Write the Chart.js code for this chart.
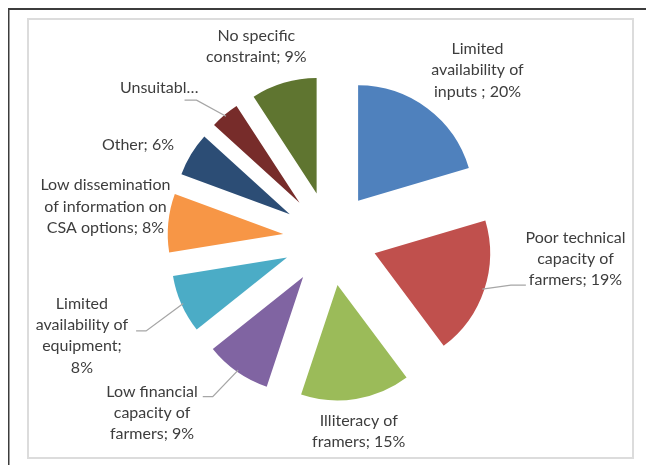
<!DOCTYPE html>
<html>
<head>
<meta charset="utf-8">
<script src="https://cdn.jsdelivr.net/npm/chart.js@4.4.1/dist/chart.umd.min.js"></script>
<style>
  html, body { margin: 0; padding: 0; background: #fff; overflow: hidden; }
  canvas { display: block; }
</style>
</head>
<body>
<canvas id="chart" width="646" height="465"></canvas>
<script>
// Constraints reported by respondents (share of responses, %)
const categories = [
  "Limited availability of inputs",
  "Poor technical capacity of farmers",
  "Illiteracy of framers",
  "Low financial capacity of farmers",
  "Limited availability of equipment",
  "Low dissemination of information on CSA options",
  "Other",
  "Unsuitabl\u2026",
  "No specific constraint"
];
const shares = [20, 19, 15, 9, 8, 8, 6, 4, 9];
const sliceColors = [
  "#4F81BD", "#C0504D", "#9BBB59", "#8064A2", "#4BACC6",
  "#F79646", "#2C4D75", "#772C2A", "#5F7530"
];
// Wrapped data-label text; {v} is replaced by the slice value
const labelTemplates = [
  ["Limited", "availability of", "inputs ; {v}%"],
  ["Poor technical", "capacity of", "farmers; {v}%"],
  ["Illiteracy of", "framers; {v}%"],
  ["Low financial", "capacity of", "farmers; {v}%"],
  ["Limited", "availability of", "equipment;", "{v}%"],
  ["Low dissemination", "of information on", "CSA options; {v}%"],
  ["Other; {v}%"],
  ["Unsuitabl\u2026"],
  ["No specific", "constraint; {v}%"]
];

// Layout settings for the exploded pie and its labels
const EXPLODE = 47;           // px each slice is pulled out along its bisector
const RADIUS = 115.5;
const FONT = '16px Lato';
const TEXT_COLOR = '#3d3d3d';
const LINE_H = 21.3;
// label block centre relative to the outer midpoint of its slice
const labelNudge = [
  [50.3, -38.2], [91.3, -30.9], [2.8, 32.1], [-85, 41.2], [-99.5, 31.3],
  [-62.8, -16.4], [-53.1, -9.5], [-65.4, -26.7], [-27.4, -36.7]
];
// leader lines: which text line they attach to, on which side
const leaders = {
  1: { line: 2, side: 'left', gap: 3, dy: 5, run: 15 },
  3: { line: 0, side: 'right', gap: 5, dy: 5, run: 10 },
  4: { line: 1, side: 'right', gap: 8, dy: 6, run: 10 },
  7: { line: 0, side: 'under', gap: -14, dy: 12, run: 12 }
};

const frame = {
  id: 'frame',
  beforeDraw(chart) {
    const ctx = chart.ctx;
    ctx.save();
    ctx.fillStyle = '#fff';
    ctx.fillRect(0, 0, chart.width, chart.height);
    ctx.fillStyle = '#3c3c3c';
    ctx.fillRect(8, 8, chart.width - 8, 2);
    ctx.fillRect(8, 8, 1.5, chart.height - 8);
    ctx.strokeStyle = '#dcdcdc';
    ctx.lineWidth = 2;
    ctx.strokeRect(28, 19, 605, 439);
    ctx.restore();
  }
};

const explodedSlices = {
  id: 'explodedSlices',
  beforeDatasetDraw(chart, args) {
    const ctx = chart.ctx;
    const meta = args.meta;
    meta.data.forEach(arc => {
      const mid = (arc.startAngle + arc.endAngle) / 2;
      ctx.save();
      ctx.translate(Math.cos(mid) * EXPLODE, Math.sin(mid) * EXPLODE);
      arc.draw(ctx);
      ctx.restore();
    });
    return false;
  },
  afterDatasetsDraw(chart) {
    const ctx = chart.ctx;
    const meta = chart.getDatasetMeta(0);
    const values = chart.data.datasets[0].data;
    ctx.save();
    ctx.font = FONT;
    ctx.fillStyle = TEXT_COLOR;
    ctx.textAlign = 'center';
    ctx.textBaseline = 'middle';
    meta.data.forEach((arc, i) => {
      const mid = (arc.startAngle + arc.endAngle) / 2;
      const reach = EXPLODE + arc.outerRadius;
      const px = arc.x + Math.cos(mid) * reach;
      const py = arc.y + Math.sin(mid) * reach;
      const cx = px + labelNudge[i][0];
      const cy = py + labelNudge[i][1];
      const lines = labelTemplates[i].map(t => t.replace('{v}', values[i]));
      const n = lines.length;
      lines.forEach((t, k) => {
        ctx.fillText(t, cx, cy + (k - (n - 1) / 2) * LINE_H);
      });
      const ld = leaders[i];
      if (ld) {
        const t = lines[ld.line];
        const w = ctx.measureText(t).width;
        const ly = cy + (ld.line - (n - 1) / 2) * LINE_H + ld.dy;
        let ex, elbow;
        if (ld.side === 'left') {
          ex = cx - w / 2 - ld.gap; elbow = ex - ld.run;
        } else {
          ex = cx + w / 2 + ld.gap; elbow = ex + ld.run;
        }
        const sx = arc.x + Math.cos(mid) * (reach - 2);
        const sy = arc.y + Math.sin(mid) * (reach - 2);
        ctx.save();
        ctx.strokeStyle = '#a6a6a6';
        ctx.lineWidth = 1.3;
        ctx.beginPath();
        ctx.moveTo(sx, sy);
        ctx.lineTo(elbow, ly);
        ctx.lineTo(ex, ly);
        ctx.stroke();
        ctx.restore();
      }
    });
    ctx.restore();
  }
};

new Chart(document.getElementById('chart'), {
  type: 'pie',
  data: {
    labels: categories,
    datasets: [{
      data: shares,
      backgroundColor: sliceColors,
      borderWidth: 0
    }]
  },
  options: {
    responsive: false,
    animation: false,
    radius: RADIUS,
    layout: { padding: { left: 70, right: 56, top: 67, bottom: 55 } },
    plugins: {
      legend: { display: false },
      tooltip: { enabled: false }
    }
  },
  plugins: [frame, explodedSlices]
});
</script>
</body>
</html>
